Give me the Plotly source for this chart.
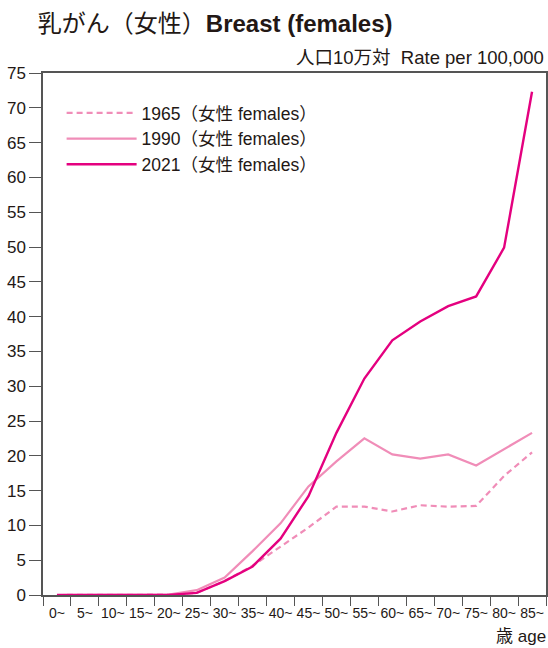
import plotly.graph_objects as go

age_labels = ["0~", "5~", "10~", "15~", "20~", "25~", "30~", "35~", "40~", "45~",
              "50~", "55~", "60~", "65~", "70~", "75~", "80~", "85~"]
rate_1965 = [0, 0, 0, 0, 0.05, 0.3, 2.0, 4.2, 7.0, 9.7, 12.7, 12.7, 12.0, 12.9, 12.7, 12.8, 17.1, 20.5]
rate_1990 = [0, 0, 0, 0, 0.05, 0.7, 2.5, 6.3, 10.3, 15.6, 19.2, 22.5, 20.2, 19.6, 20.2, 18.6, 21.0, 23.3]
rate_2021 = [0, 0, 0, 0, 0.02, 0.3, 2.0, 4.1, 8.1, 14.2, 23.3, 31.1, 36.6, 39.3, 41.5, 42.9, 49.9, 72.3]

series_names = ["1965（女性 females）", "1990（女性 females）", "2021（女性 females）"]

FONT = "Liberation Sans, Arial, Noto Sans CJK JP, sans-serif"
TXT = "#231815"
AX = "#555555"

fig = go.Figure()
fig.add_trace(go.Scatter(x=age_labels, y=rate_1965, name=series_names[0], mode="lines",
                         line=dict(color="#F08DB8", width=2.2, dash="6px,4px")))
fig.add_trace(go.Scatter(x=age_labels, y=rate_1990, name=series_names[1], mode="lines",
                         line=dict(color="#F08DB8", width=2.2)))
fig.add_trace(go.Scatter(x=age_labels, y=rate_2021, name=series_names[2], mode="lines",
                         line=dict(color="#E4007F", width=2.4)))

fig.update_layout(
    width=548, height=648,
    margin=dict(l=43, r=2, t=73, b=53),
    paper_bgcolor="white", plot_bgcolor="white",
    font=dict(family=FONT, color=TXT),
    showlegend=True,
    legend=dict(x=0.037, y=0.958, xanchor="left", yanchor="top",
                font=dict(size=17.5, color=TXT, family=FONT),
                bgcolor="rgba(0,0,0,0)", itemwidth=70, tracegroupgap=0),
    title=dict(text="乳がん（女性）<b>Breast (females)</b>",
               x=0.069, xanchor="left", y=0.963, yanchor="middle",
               font=dict(size=24, color=TXT, family="Liberation Sans, Noto Sans CJK JP, sans-serif")),
    xaxis=dict(type="category", range=[-0.5, len(age_labels) - 0.5],
               tickson="boundaries", ticks="outside", ticklen=9,
               tickcolor=AX, tickwidth=1.2, showline=True, linecolor=AX, linewidth=1.5,
               mirror=True, showgrid=False, zeroline=False, tickangle=0, automargin=False,
               ticklabelstandoff=4,
               tickfont=dict(size=14, color=TXT)),
    yaxis=dict(range=[0, 75], dtick=5, ticks="outside", ticklen=12, tickcolor=AX,
               tickwidth=1.2, showline=True, linecolor=AX, linewidth=1.5, mirror=True,
               showgrid=False, zeroline=False, automargin=False,
               tickfont=dict(size=17, color=TXT)),
    annotations=[
        dict(text="人口10万対  Rate per 100,000", xref="paper", yref="paper",
             x=1.0, y=1.0, xanchor="right", yanchor="bottom", yshift=3, showarrow=False,
             font=dict(size=18.5, color=TXT)),
        dict(text="歳 age", xref="paper", yref="paper", x=1.0, y=0, xanchor="right",
             yanchor="top", yshift=-30, xshift=2, showarrow=False, font=dict(size=17, color=TXT)),
    ],
)

fig.write_html("out.html", config={"displayModeBar": False},
               post_script="document.body.style.margin='0';document.body.style.overflow='hidden';")
